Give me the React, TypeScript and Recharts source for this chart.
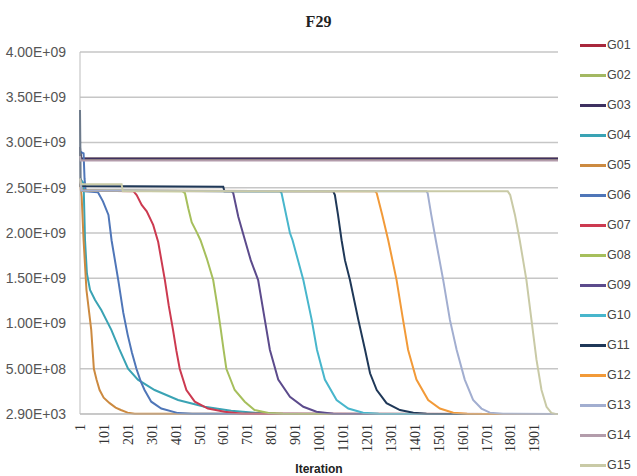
import { LineChart, Line, XAxis, YAxis, CartesianGrid, Legend, Label } from 'recharts'

// iteration / best value pairs
const g01 = [[1, 2.9e9], [5, 2.82e9], [2000, 2.82e9]]
const g02 = [[1, 2.9e9], [5, 2.82e9], [2000, 2.82e9]]
const g03 = [[1, 2.95e9], [4, 2.823e9], [2000, 2.823e9]]
const g04 = [[1, 2.6e9], [16, 2.55e9], [22, 1.92e9], [30, 1.55e9], [43, 1.37e9], [64, 1.26e9], [90, 1.15e9], [132, 9.3e8], [165, 7.2e8], [202, 5e8], [243, 3.8e8], [313, 2.65e8], [411, 1.55e8], [522, 8e7], [633, 3.6e7], [731, 1.5e7], [820, 3e6], [2000, 2900]]
const g05 = [[1, 2.55e9], [8, 2.4e9], [16, 1.92e9], [28, 1.37e9], [48, 9.3e8], [59, 5e8], [70, 3.8e8], [83, 2.65e8], [100, 1.8e8], [125, 1.2e8], [150, 7e7], [172, 4.4e7], [200, 1.5e7], [230, 3e6], [2000, 2900]]
const g06 = [[1, 2.9e9], [16, 2.88e9], [20, 2.6e9], [25, 2.46e9], [76, 2.45e9], [97, 2.35e9], [120, 2.2e9], [133, 1.92e9], [161, 1.48e9], [182, 1.12e9], [200, 8.8e8], [218, 6.8e8], [237, 5e8], [255, 3.6e8], [271, 2.65e8], [299, 1.36e8], [341, 6e7], [411, 1e7], [470, 2e6], [2000, 2900]]
const g07 = [[1, 2.6e9], [8, 2.47e9], [225, 2.46e9], [238, 2.42e9], [259, 2.31e9], [280, 2.24e9], [307, 2.09e9], [328, 1.9e9], [356, 1.48e9], [372, 1.2e9], [390, 9.3e8], [404, 7e8], [418, 5e8], [446, 2.65e8], [481, 1.36e8], [536, 6e7], [606, 2.5e7], [680, 3e6], [2000, 2900]]
const g08 = [[1, 2.6e9], [8, 2.47e9], [430, 2.46e9], [440, 2.44e9], [454, 2.27e9], [468, 2.12e9], [489, 2.01e9], [505, 1.92e9], [531, 1.72e9], [558, 1.48e9], [575, 1.2e9], [590, 9.3e8], [602, 7e8], [613, 5e8], [648, 2.65e8], [690, 1.36e8], [731, 4.4e7], [790, 1e7], [850, 2e6], [2000, 2900]]
const g09 = [[1, 2.6e9], [8, 2.47e9], [635, 2.46e9], [642, 2.44e9], [663, 2.18e9], [691, 1.92e9], [715, 1.7e9], [746, 1.48e9], [774, 1.04e9], [795, 7.1e8], [830, 3.8e8], [879, 1.9e8], [935, 8e7], [990, 2.5e7], [1060, 3e6], [2000, 2900]]
const g10 = [[1, 2.6e9], [8, 2.47e9], [838, 2.46e9], [844, 2.44e9], [879, 2.0e9], [890, 1.92e9], [935, 1.48e9], [970, 1.04e9], [992, 7.1e8], [1025, 3.8e8], [1074, 1.55e8], [1123, 6e7], [1185, 1.5e7], [1250, 2e6], [2000, 2900]]
const g11 = [[1, 3.36e9], [3, 2.52e9], [600, 2.51e9], [605, 2.46e9], [1060, 2.46e9], [1067, 2.42e9], [1080, 2.2e9], [1095, 1.92e9], [1109, 1.7e9], [1130, 1.48e9], [1165, 1.04e9], [1193, 7.1e8], [1214, 4.5e8], [1242, 2.65e8], [1283, 1.2e8], [1339, 4.4e7], [1395, 1.5e7], [1450, 2e6], [2000, 2900]]
const g12 = [[1, 2.6e9], [8, 2.47e9], [1235, 2.46e9], [1242, 2.44e9], [1265, 2.2e9], [1290, 1.92e9], [1325, 1.48e9], [1352, 1.04e9], [1373, 7.1e8], [1408, 3.8e8], [1457, 1.55e8], [1506, 6e7], [1562, 1.5e7], [1620, 2e6], [2000, 2900]]
const g13 = [[1, 2.6e9], [8, 2.47e9], [1450, 2.46e9], [1455, 2.44e9], [1470, 2.2e9], [1489, 1.92e9], [1520, 1.48e9], [1548, 1.04e9], [1576, 7.1e8], [1610, 3.8e8], [1645, 1.55e8], [1680, 6e7], [1715, 1.5e7], [1770, 2e6], [2000, 2900]]
const g14 = [[1, 2.85e9], [4, 2.8e9], [2000, 2.8e9]]
const g15 = [[1, 2.6e9], [5, 2.54e9], [175, 2.54e9], [180, 2.46e9], [1790, 2.46e9], [1800, 2.42e9], [1820, 2.2e9], [1840, 1.92e9], [1868, 1.48e9], [1889, 1.04e9], [1910, 6e8], [1931, 2.65e8], [1952, 8e7], [1973, 1e7], [1990, 2900], [2000, 2900]]

const seriesNames = ['G01', 'G02', 'G03', 'G04', 'G05', 'G06', 'G07', 'G08', 'G09', 'G10', 'G11', 'G12', 'G13', 'G14', 'G15']
const seriesData = [g01, g02, g03, g04, g05, g06, g07, g08, g09, g10, g11, g12, g13, g14, g15]
const colors = ['#a8283c', '#a3b862', '#3e3160', '#3aa3b4', '#cc8a40', '#4f76b8', '#cc3a50', '#a6bf5c', '#5c4b8c', '#48b6cc', '#1f3858', '#f29a38', '#a2aed0', '#b39cab', '#c9caa6']

const xTicks = [1, 101, 201, 301, 401, 501, 601, 701, 801, 901, 1001, 1101, 1201, 1301, 1401, 1501, 1601, 1701, 1801, 1901]
const yTicks = [2900, 5e8, 1e9, 1.5e9, 2e9, 2.5e9, 3e9, 3.5e9, 4e9]

const fmtExp = (v: number) => {
  const [m, e] = v.toExponential(2).split('e')
  const n = Math.abs(parseInt(e, 10))
  return `${m}E${e[0] === '-' ? '-' : '+'}${n < 10 ? '0' + n : n}`
}

const XTick = ({ x, y, payload }: any) => (
  <text
    x={x}
    y={y + 2}
    dy={5}
    transform={`rotate(-90 ${x} ${y + 2})`}
    textAnchor="end"
    fontFamily="Liberation Serif"
    fontSize={14}
    fill="#333"
  >
    {payload.value}
  </text>
)

const LegendBox = ({ payload }: any) => (
  <div style={{ width: 62 }}>
    {(payload || []).map((p: any) => (
      <div key={p.value} style={{ height: 30, display: 'flex', alignItems: 'center' }}>
        <div style={{ width: 26, height: 3, background: p.color, marginLeft: 5 }} />
        <span style={{ fontFamily: 'Liberation Sans', fontSize: 12.5, color: '#444', marginLeft: 1 }}>{p.value}</span>
      </div>
    ))}
  </div>
)

export default function App() {
  return (
    <div style={{ position: 'absolute', left: 0, top: 0, width: 637, height: 476, background: '#fff' }}>
      <div
        style={{
          position: 'absolute', top: 13, left: 0, width: 637, textAlign: 'center',
          fontFamily: 'Liberation Serif', fontWeight: 'bold', fontSize: 16, color: '#222',
        }}
      >F29</div>
      <LineChart width={637} height={476} margin={{ top: 52, right: 17, bottom: 0, left: 0 }}>
        <CartesianGrid vertical={false} stroke="#c6c6c6" strokeWidth={1.5} />
        <XAxis
          type="number"
          dataKey="x"
          domain={[1, 2000]}
          ticks={xTicks}
          interval={0}
          height={62}
          tickLine={false}
          axisLine={{ stroke: '#bdbdbd' }}
          tick={<XTick />}
        >
          <Label value="Iteration" position="insideBottom" offset={3} style={{ fontFamily: 'Liberation Sans', fontWeight: 'bold', fontSize: 12, fill: '#222' }} />
        </XAxis>
        <YAxis
          type="number"
          domain={[2900, 4e9]}
          ticks={yTicks}
          interval={0}
          width={80}
          tickLine={false}
          tickMargin={8}
          axisLine={{ stroke: '#bdbdbd' }}
          tickFormatter={fmtExp}
          tick={{ fontFamily: 'Liberation Sans', fontSize: 14, fill: '#555' }}
        />
        <Legend
          layout="vertical"
          align="right"
          verticalAlign="top"
          wrapperStyle={{ right: 0, top: 30, width: 62 }}
          content={<LegendBox />}
        />
        {seriesNames.map((name, i) => (
          <Line
            key={name}
            name={name}
            data={seriesData[i].map(([x, v]) => ({ x, v }))}
            dataKey="v"
            type="linear"
            stroke={colors[i]}
            strokeWidth={2}
            dot={false}
            isAnimationActive={false}
          />
        ))}
      </LineChart>
    </div>
  )
}
